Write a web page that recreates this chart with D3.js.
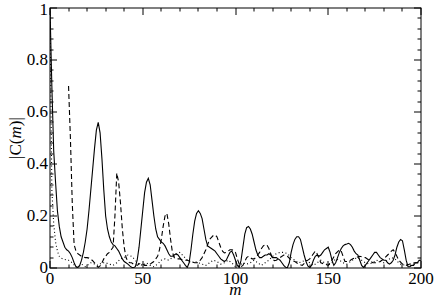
<!DOCTYPE html>
<html>
<head>
<meta charset="utf-8">
<script src="https://cdn.jsdelivr.net/npm/d3@7"></script>
<style>
  html, body { margin: 0; padding: 0; background: #fff; }
  svg { display: block; }
</style>
</head>
<body>
<svg id="chart" width="436" height="298"></svg>
<script>
// |C(m)|, [m, value]
var solidPts = [
  [0,1.0],[1,0.7],[2,0.45],[3,0.33],[4,0.22],[5,0.16],[6,0.12],[7,0.1],[8,0.08],[9,0.07],
  [10,0.065],[11,0.055],[12,0.04],[13,0.02],[14,0.005],[15,0.002],[16,0.01],[17,0.03],[18,0.06],[19,0.1],
  [20,0.15],[21,0.22],[22,0.3],[23,0.38],[24,0.46],[25,0.53],[26,0.56],[27,0.52],[28,0.42],[29,0.3],
  [30,0.2],[31,0.15],[32,0.12],[33,0.1],[34,0.09],[35,0.085],[36,0.075],[37,0.065],[38,0.05],[39,0.035],
  [40,0.025],[41,0.02],[42,0.015],[43,0.008],[44,0.003],[45,0.001],[46,0.005],[47,0.03],[48,0.08],[49,0.15],
  [50,0.22],[51,0.29],[52,0.33],[53,0.345],[54,0.32],[55,0.26],[56,0.2],[57,0.15],[58,0.12],[59,0.11],
  [60,0.1],[61,0.095],[62,0.085],[63,0.07],[64,0.055],[65,0.045],[66,0.045],[67,0.05],[68,0.055],[69,0.05],
  [70,0.04],[71,0.03],[72,0.02],[73,0.01],[74,0.002],[75,0.02],[76,0.07],[77,0.13],[78,0.18],[79,0.21],
  [80,0.22],[81,0.21],[82,0.19],[83,0.15],[84,0.11],[85,0.085],[86,0.08],[87,0.075],[88,0.07],[89,0.065],
  [90,0.055],[91,0.045],[92,0.035],[93,0.03],[94,0.025],[95,0.03],[96,0.045],[97,0.06],[98,0.065],[99,0.05],
  [100,0.03],[101,0.01],[102,0.002],[103,0.03],[104,0.08],[105,0.13],[106,0.155],[107,0.16],[108,0.15],[109,0.13],
  [110,0.1],[111,0.07],[112,0.05],[113,0.04],[114,0.04],[115,0.045],[116,0.05],[117,0.05],[118,0.055],[119,0.05],
  [120,0.04],[121,0.04],[122,0.04],[123,0.035],[124,0.03],[125,0.02],[126,0.01],[127,0.003],[128,0.002],[129,0.02],
  [130,0.06],[131,0.09],[132,0.11],[133,0.12],[134,0.12],[135,0.11],[136,0.08],[137,0.05],[138,0.025],[139,0.008],
  [140,0.002],[141,0.01],[142,0.03],[143,0.045],[144,0.05],[145,0.045],[146,0.05],[147,0.06],[148,0.07],[149,0.075],
  [150,0.08],[151,0.06],[152,0.03],[153,0.01],[154,0.02],[155,0.04],[156,0.06],[157,0.075],[158,0.085],[159,0.09],
  [160,0.092],[161,0.095],[162,0.09],[163,0.08],[164,0.065],[165,0.055],[166,0.05],[167,0.03],[168,0.01],[169,0.002],
  [170,0.01],[171,0.02],[172,0.03],[173,0.04],[174,0.05],[175,0.06],[176,0.06],[177,0.05],[178,0.04],[179,0.035],
  [180,0.03],[181,0.03],[182,0.02],[183,0.015],[184,0.02],[185,0.03],[186,0.05],[187,0.08],[188,0.1],[189,0.11],
  [190,0.105],[191,0.07],[192,0.03],[193,0.005],[194,0.005],[195,0.01],[196,0.01],[197,0.02],[198,0.02],[199,0.03],
  [200,0.03]
];

var dashedPts = [
  [10,0.7],[11,0.5],[12,0.25],[13,0.09],[14,0.065],[15,0.055],[16,0.05],[17,0.045],[18,0.042],[19,0.04],
  [20,0.04],[21,0.038],[22,0.034],[23,0.028],[24,0.02],[25,0.01],[26,0.003],[27,0.008],[28,0.02],[29,0.035],
  [30,0.045],[31,0.055],[32,0.06],[33,0.07],[34,0.08],[35,0.2],[36,0.365],[37,0.33],[38,0.25],[39,0.15],
  [40,0.08],[41,0.04],[42,0.025],[43,0.02],[44,0.02],[45,0.015],[46,0.015],[47,0.01],[48,0.015],[49,0.02],
  [50,0.015],[51,0.01],[52,0.01],[53,0.012],[54,0.015],[55,0.02],[56,0.025],[57,0.035],[58,0.045],[59,0.07],
  [60,0.11],[61,0.16],[62,0.2],[63,0.21],[64,0.17],[65,0.11],[66,0.06],[67,0.04],[68,0.035],[70,0.035],
  [72,0.03],[74,0.03],[76,0.025],[78,0.02],[80,0.02],[82,0.04],[84,0.07],[86,0.11],[88,0.125],[89,0.127],
  [90,0.12],[91,0.1],[92,0.08],[93,0.065],[94,0.058],[95,0.06],[96,0.065],[97,0.07],[98,0.07],[99,0.068],
  [100,0.06],[101,0.035],[102,0.015],[103,0.005],[104,0.01],[105,0.025],[106,0.04],[107,0.045],[108,0.04],[109,0.035],
  [110,0.035],[111,0.04],[112,0.05],[113,0.06],[114,0.075],[115,0.085],[116,0.09],[117,0.088],[118,0.075],[119,0.055],
  [120,0.035],[121,0.028],[122,0.03],[124,0.04],[126,0.05],[128,0.045],[130,0.03],[132,0.025],[134,0.015],[136,0.01],
  [138,0.025],[140,0.035],[142,0.055],[143,0.065],[144,0.055],[146,0.02],[148,0.015],[150,0.01],[152,0.03],[154,0.055],
  [156,0.07],[157,0.065],[159,0.025],[161,0.025],[163,0.035],[165,0.04],[167,0.045],[170,0.04],[172,0.03],[174,0.02],
  [176,0.02],[178,0.025],[180,0.035],[182,0.05],[184,0.065],[185,0.07],[186,0.06],[188,0.03],[190,0.015],[192,0.01],
  [194,0.015],[196,0.02],[198,0.02],[200,0.02]
];

var dottedPts = [
  [0,1.0],[1,0.3],[2,0.17],[3,0.1],[4,0.065],[5,0.045],[6,0.038],[7,0.035],[8,0.033],[9,0.03],
  [10,0.03],[11,0.025],[12,0.02],[13,0.012],[14,0.005],[15,0.003],[16,0.008],[17,0.015],[18,0.01],[19,0.005],
  [20,0.01],[22,0.02],[24,0.015],[26,0.01],[28,0.02],[30,0.02],[32,0.015],[34,0.01],[36,0.02],[38,0.035],
  [40,0.04],[42,0.05],[44,0.045],[46,0.03],[48,0.015],[50,0.01],[52,0.02],[54,0.01],[56,0.005],[58,0.015],
  [60,0.03],[62,0.035],[64,0.03],[66,0.04],[68,0.05],[70,0.06],[72,0.045],[74,0.03],[76,0.02],[78,0.025],
  [80,0.02],[82,0.015],[84,0.01],[86,0.02],[88,0.03],[90,0.025],[92,0.015],[94,0.02],[96,0.03],[98,0.02],
  [100,0.005],[102,0.01],[104,0.02],[106,0.015],[108,0.02],[110,0.03],[112,0.02],[114,0.01],[116,0.02],[118,0.03],
  [120,0.045],[122,0.055],[124,0.06],[126,0.06],[128,0.055],[130,0.04],[132,0.03],[134,0.02],[136,0.025],[138,0.03],
  [140,0.02],[142,0.01],[144,0.02],[146,0.03],[148,0.02],[150,0.01],[152,0.02],[154,0.035],[156,0.03],[158,0.02],
  [160,0.015],[162,0.025],[164,0.035],[166,0.04],[168,0.03],[170,0.02],[172,0.015],[174,0.02],[176,0.03],[178,0.025],
  [180,0.02],[182,0.03],[184,0.04],[186,0.035],[188,0.02],[190,0.01],[192,0.015],[194,0.01],[196,0.015],[198,0.02],
  [200,0.035]
];

var xMajor = [0, 50, 100, 150, 200];
var yMajor = [0, 0.2, 0.4, 0.6, 0.8, 1];
var yLabels = ["0", "0.2", "0.4", "0.6", "0.8", "1"];

var series = [
  {name: "solid", pts: solidPts, dash: null},
  {name: "dashed", pts: dashedPts, dash: "5,3"},
  {name: "dotted", pts: dottedPts, dash: "1,2.5"}
];

(function () {
  var svg = d3.select("#chart");
  var mLeft = 50, mRight = 421, mTop = 8, mBottom = 268;

  var x = d3.scaleLinear().domain([0, 200]).range([mLeft, mRight]);
  var y = d3.scaleLinear().domain([0, 1]).range([mBottom, mTop]);

  var line = d3.line()
    .x(d => x(d[0]))
    .y(d => y(d[1]));

  svg.append("clipPath").attr("id", "plotclip")
    .append("rect")
    .attr("x", mLeft).attr("y", mTop - 2)
    .attr("width", mRight - mLeft).attr("height", mBottom - mTop + 2);

  svg.append("g")
    .attr("clip-path", "url(#plotclip)")
    .selectAll("path")
    .data(series)
    .join("path")
    .attr("d", d => line(d.pts))
    .attr("fill", "none")
    .attr("stroke", "#000")
    .attr("stroke-width", 1.1)
    .attr("stroke-dasharray", d => d.dash);

  // ticks on all four sides, pointing inward
  var xMinor = d3.range(0, 201, 10).filter(v => xMajor.indexOf(v) < 0);
  var yMinor = d3.range(0, 1.0001, 0.04).filter(v => Math.abs(v * 5 - Math.round(v * 5)) > 1e-6);

  var ticks = svg.append("g").attr("stroke", "#000").attr("stroke-width", 1);
  var tickList = [];
  xMajor.forEach(v => tickList.push({v: v, len: 7, axis: "x"}));
  xMinor.forEach(v => tickList.push({v: v, len: 3.5, axis: "x"}));
  yMajor.forEach(v => tickList.push({v: v, len: 7, axis: "y"}));
  yMinor.forEach(v => tickList.push({v: v, len: 3.5, axis: "y"}));

  tickList.forEach(t => {
    if (t.axis === "x") {
      var px = Math.round(x(t.v));
      ticks.append("line").attr("x1", px).attr("x2", px).attr("y1", mBottom).attr("y2", mBottom - t.len);
      ticks.append("line").attr("x1", px).attr("x2", px).attr("y1", mTop).attr("y2", mTop + t.len);
    } else {
      var py = Math.round(y(t.v));
      ticks.append("line").attr("y1", py).attr("y2", py).attr("x1", mLeft).attr("x2", mLeft + t.len);
      ticks.append("line").attr("y1", py).attr("y2", py).attr("x1", mRight).attr("x2", mRight - t.len);
    }
  });

  svg.append("rect")
    .attr("x", mLeft).attr("y", mTop)
    .attr("width", mRight - mLeft).attr("height", mBottom - mTop)
    .attr("fill", "none")
    .attr("stroke", "#000")
    .attr("stroke-width", 1);

  var font = "'Liberation Serif', 'Times New Roman', serif";

  svg.append("g")
    .selectAll("text")
    .data(xMajor)
    .join("text")
    .attr("x", d => x(d))
    .attr("y", 284)
    .attr("text-anchor", "middle")
    .style("font-family", font)
    .style("font-size", "17px")
    .text(d => d);

  svg.append("g")
    .selectAll("text")
    .data(yMajor)
    .join("text")
    .attr("x", mLeft - 2)
    .attr("y", d => d === 1 ? y(d) + 1.5 : y(d) - 1)
    .attr("dy", "0.35em")
    .attr("text-anchor", "end")
    .style("font-family", font)
    .style("font-size", "17px")
    .text((d, i) => yLabels[i]);

  svg.append("text")
    .attr("x", (mLeft + mRight) / 2)
    .attr("y", 295)
    .attr("text-anchor", "middle")
    .style("font-family", font)
    .style("font-size", "17px")
    .style("font-style", "italic")
    .text("m");

  var ylab = svg.append("text")
    .attr("transform", `translate(21,${(mTop + mBottom) / 2}) rotate(-90)`)
    .attr("text-anchor", "middle")
    .style("font-family", font)
    .style("font-size", "17px");
  ylab.append("tspan").text("|C(");
  ylab.append("tspan").style("font-style", "italic").text("m");
  ylab.append("tspan").text(")|");
})();
</script>
</body>
</html>
